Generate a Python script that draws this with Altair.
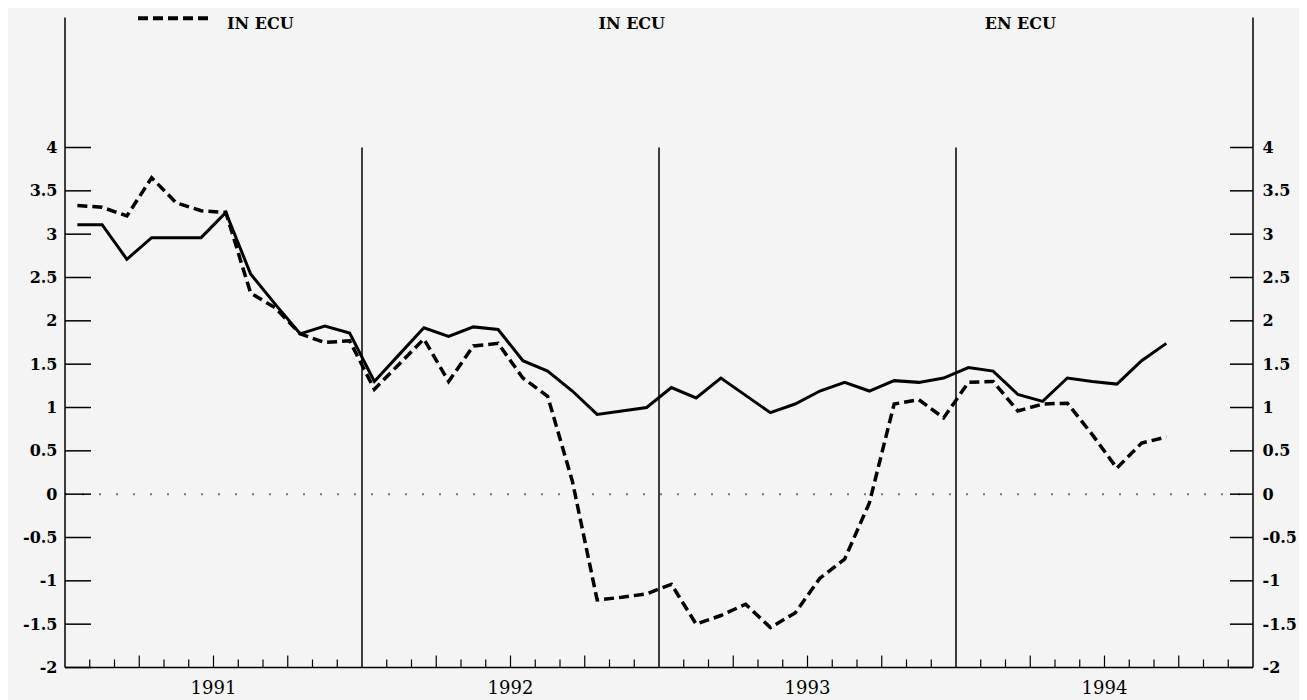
import altair as alt
import pandas as pd

# ---- data (monthly, Jan 1991 .. Sep 1994) ----
solid_vals = [
    3.11, 3.11, 2.71, 2.96, 2.96, 2.96, 3.25, 2.54, 2.19, 1.85, 1.94, 1.86,   # 1991
    1.30, 1.61, 1.92, 1.82, 1.93, 1.90, 1.54, 1.42, 1.19, 0.92, 0.96, 1.00,   # 1992
    1.23, 1.11, 1.34, 1.14, 0.94, 1.04, 1.19, 1.29, 1.19, 1.31, 1.29, 1.34,   # 1993
    1.46, 1.42, 1.15, 1.07, 1.34, 1.30, 1.27, 1.54, 1.74,                     # 1994
]
dashed_vals = [
    3.33, 3.31, 3.21, 3.65, 3.36, 3.27, 3.25, 2.32, 2.15, 1.85, 1.75, 1.77,   # 1991
    1.21, 1.50, 1.79, 1.30, 1.71, 1.74, 1.34, 1.13, 0.15, -1.22, -1.19, -1.15,  # 1992
    -1.04, -1.50, -1.40, -1.27, -1.54, -1.37, -0.97, -0.75, -0.10, 1.04, 1.09, 0.88,  # 1993
    1.29, 1.30, 0.96, 1.04, 1.05, 0.69, 0.30, 0.59, 0.66,                     # 1994
]
y_tick_values = [-2, -1.5, -1, -0.5, 0, 0.5, 1, 1.5, 2, 2.5, 3, 3.5, 4]
year_labels = ["1991", "1992", "1993", "1994"]
year_label_pos = [6, 18, 30, 42]          # month index of label centre
year_boundaries = [12, 24, 36]            # month index of year separators
month_ticks = [m for m in range(1, 48) if m not in year_boundaries]
header_texts = ["IN ECU", "IN ECU", "EN ECU"]
header_pos = [6.55, 22.9, 38.6]
header_align = ["left", "center", "center"]

# ---- layout constants ----
W, H = 1188, 650
Y_MIN, Y_MAX = -2, 5.5
X_MIN, X_MAX = 0, 48
px_per_unit = H / (Y_MAX - Y_MIN)
SERIF = "DejaVu Serif"

xs = alt.Scale(domain=[X_MIN, X_MAX], nice=False, zero=False)
ys = alt.Scale(domain=[Y_MIN, Y_MAX], nice=False, zero=False)

series = pd.DataFrame({
    "x": [i + 0.5 for i in range(len(solid_vals))],
    "solid": solid_vals,
    "dashed": dashed_vals,
})

hyphen_expr = "replace(datum.label, '\u2212', '-')"
y_left = alt.Axis(values=y_tick_values, format="~g", labelExpr=hyphen_expr, ticks=False,
                  domain=False, grid=False, title=None, labelFont=SERIF, labelFontSize=16,
                  labelFontWeight="bold", labelColor="black", labelPadding=8,
                  orient="left")
y_right = alt.Axis(values=y_tick_values, format="~g", labelExpr=hyphen_expr, ticks=False,
                   domain=False, grid=False, title=None, labelFont=SERIF, labelFontSize=16,
                   labelFontWeight="bold", labelColor="black", labelPadding=9,
                   orient="right")

base = alt.Chart(series)

solid_line = base.mark_line(color="black", strokeWidth=3, strokeJoin="miter").encode(
    x=alt.X("x:Q", scale=xs, axis=None),
    y=alt.Y("solid:Q", scale=ys, axis=y_left),
)
dashed_line = base.mark_line(color="black", strokeWidth=3.5, strokeDash=[10, 5]).encode(
    x=alt.X("x:Q", scale=xs, axis=None),
    y=alt.Y("dashed:Q", scale=ys, axis=y_right),
)

# zero dotted reference line
zero_df = pd.DataFrame({"y": [0]})
zero_line = alt.Chart(zero_df).mark_rule(color="#777777", strokeWidth=2, strokeDash=[2, 15]).encode(
    y=alt.Y("y:Q", scale=ys, axis=None), x=alt.value(0), x2=alt.value(W))

# year separators
yl_df = pd.DataFrame({"x": year_boundaries, "y": [4] * 3, "y2": [Y_MIN] * 3})
year_lines = alt.Chart(yl_df).mark_rule(color="black", strokeWidth=1.5).encode(
    x=alt.X("x:Q", scale=xs, axis=None), y=alt.Y("y:Q", scale=ys, axis=None), y2="y2:Q")

# left / right axis lines
edges_df = pd.DataFrame({"x": [X_MIN, X_MAX]})
edge_lines = alt.Chart(edges_df).mark_rule(color="black", strokeWidth=1.5).encode(
    x=alt.X("x:Q", scale=xs, axis=None), y=alt.value(0), y2=alt.value(H))

# bottom axis line
bottom_df = pd.DataFrame({"y": [Y_MIN]})
bottom_line = alt.Chart(bottom_df).mark_rule(color="black", strokeWidth=1.5).encode(
    y=alt.Y("y:Q", scale=ys, axis=None), x=alt.value(0), x2=alt.value(W))

# year labels under the bottom axis
yr_df = pd.DataFrame({"x": year_label_pos, "y": [Y_MIN] * 4, "t": year_labels})
year_text = alt.Chart(yr_df).mark_text(font=SERIF, fontSize=18, color="black",
                                       align="center", baseline="middle", dy=21).encode(
    x=alt.X("x:Q", scale=xs, axis=None), y=alt.Y("y:Q", scale=ys, axis=None), text="t:N")

# inward y ticks
yt_df = pd.DataFrame({"y": y_tick_values})
left_ticks = alt.Chart(yt_df).mark_rule(color="black", strokeWidth=1.5).encode(
    y=alt.Y("y:Q", scale=ys, axis=None), x=alt.value(0), x2=alt.value(26))
right_ticks = alt.Chart(yt_df).mark_rule(color="black", strokeWidth=1.5).encode(
    y=alt.Y("y:Q", scale=ys, axis=None), x=alt.value(W - 23), x2=alt.value(W))

# upward month ticks on the bottom axis (quarters longer)
mt_df = pd.DataFrame({
    "x": month_ticks,
    "y": [Y_MIN] * len(month_ticks),
    "y2": [Y_MIN + (12 if m % 3 == 0 else 8) / px_per_unit for m in month_ticks],
})
month_tick_marks = alt.Chart(mt_df).mark_rule(color="black", strokeWidth=1.2).encode(
    x=alt.X("x:Q", scale=xs, axis=None), y=alt.Y("y:Q", scale=ys, axis=None), y2="y2:Q")

# header legend
leg_df = pd.DataFrame({"x": [2.95], "x2": [5.95], "y": [5.49]})
legend_dash = alt.Chart(leg_df).mark_rule(color="black", strokeWidth=4, strokeDash=[10, 5]).encode(
    x=alt.X("x:Q", scale=xs, axis=None), x2="x2:Q", y=alt.Y("y:Q", scale=ys, axis=None))

hdr_layers = []
for t, p, a in zip(header_texts, header_pos, header_align):
    d = pd.DataFrame({"x": [p], "y": [5.43], "t": [t]})
    hdr_layers.append(
        alt.Chart(d).mark_text(font=SERIF, fontSize=16, fontWeight="bold", color="black",
                               align=a, baseline="middle").encode(
            x=alt.X("x:Q", scale=xs, axis=None), y=alt.Y("y:Q", scale=ys, axis=None), text="t:N")
    )

chart = alt.layer(
    zero_line, year_lines, month_tick_marks, left_ticks, right_ticks, edge_lines,
    bottom_line, year_text, legend_dash, *hdr_layers, solid_line, dashed_line,
).resolve_axis(y="independent").properties(
    width=W, height=H,
    autosize=alt.AutoSizeParams(type="none"),
    padding={"left": 57, "top": 9.5, "right": 46, "bottom": 32},
    background="#f4f4f4",
).configure_view(stroke=None)

chart.save("out.html", embed_options={"renderer": "svg", "actions": False})
